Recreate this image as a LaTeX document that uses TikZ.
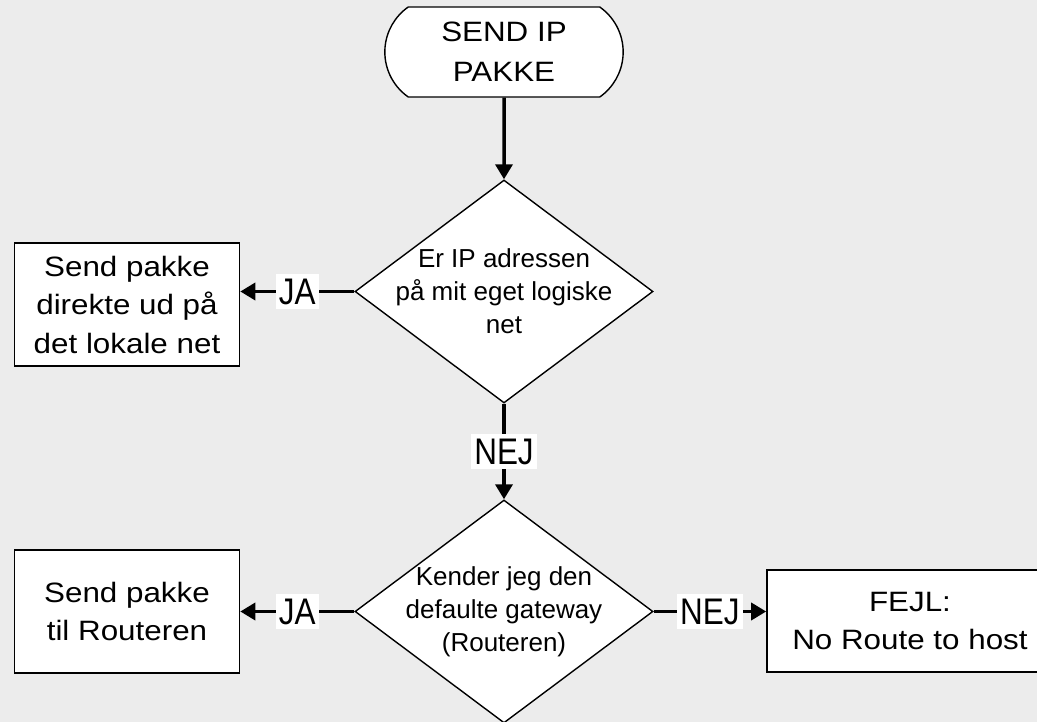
\documentclass[tikz,border=0pt]{standalone}
\usepackage{fontspec}
\setmainfont{Liberation Sans}
\newfontfamily\boksfont[FakeStretch=1.12]{Liberation Sans}
\newfontfamily\svarfont[FakeStretch=0.85]{Liberation Sans}
\usetikzlibrary{shapes.geometric,shapes.misc,arrows.meta}
\definecolor{baggrund}{RGB}{236,236,236}

\begin{document}
\begin{tikzpicture}[x=1pt,y=-1pt,
    pil/.style={line width=3.5pt,-{Triangle[length=15pt,width=17pt]}},
    boks/.style={draw,line width=1.6pt,fill=white,inner sep=2pt,minimum width=225pt,minimum height=123pt,align=center,font=\boksfont\fontsize{28}{38.5}\selectfont},
    valg/.style={diamond,draw,line width=1.4pt,fill=white,aspect=1.336,inner sep=-20pt,minimum width=298pt,minimum height=223pt,align=center,font=\fontsize{26}{33}\selectfont},
    svar/.style={fill=white,inner xsep=3pt,inner ysep=5pt,font=\svarfont\fontsize{37}{37}\selectfont}]

    \clip (0,0) rectangle (1037,722);
    \fill[baggrund] (0,0) rectangle (1037,722);

    % start
    \node[rounded rectangle,rounded rectangle arc length=110,draw,line width=1.4pt,fill=white,
          minimum width=245pt,minimum height=90pt,align=center,
          font=\boksfont\fontsize{28}{40}\selectfont] (start) at (504,52) {SEND IP\\PAKKE};

    % beslutninger
    \node[valg] (valg1) at (504,291.5) {Er IP adressen\\på mit eget logiske\\net};
    \node[valg] (valg2) at (504,611.5) {Kender jeg den\\defaulte gateway\\(Routeren)};

    % handlinger
    \node[boks] (direkte) at (127,304.5) {Send pakke\\direkte ud på\\det lokale net};
    \node[boks] (router) at (127,611.5) {Send pakke\\til Routeren};
    \node[boks,minimum width=286pt,minimum height=102pt] (fejl) at (910,621) {FEJL:\\No Route to host};

    \draw[pil] (start) -- (valg1);
    \draw[pil] (valg1.west) -- node[svar] (ja1) {JA} (valg1.west -| direkte.east);
    \draw[pil] (valg1.south) -- node[svar] (nej1) {NEJ} (valg2.north);
    \draw[pil] (valg2.west) -- node[svar] (ja2) {JA} (router.east);
    \draw[pil] (valg2.east) -- node[svar] (nej2) {NEJ} (valg2.east -| fejl.west);
\end{tikzpicture}
\end{document}
